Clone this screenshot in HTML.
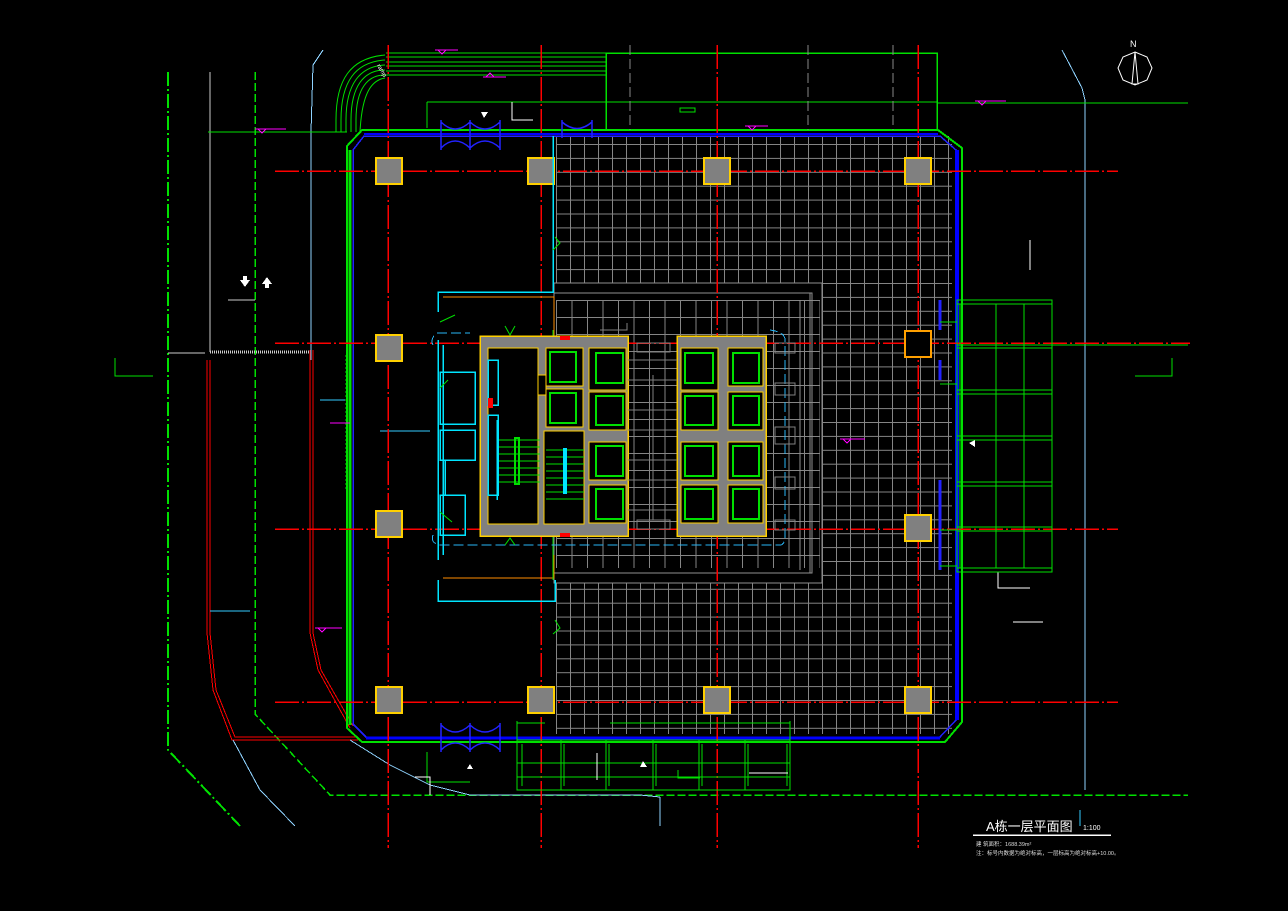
<!DOCTYPE html>
<html><head><meta charset="utf-8"><style>
html,body{margin:0;padding:0;background:#000;}
svg{display:block}
text{font-family:"Liberation Sans","Noto Sans CJK SC",sans-serif;}
</style></head><body>
<svg width="1288" height="911" viewBox="0 0 1288 911" xmlns="http://www.w3.org/2000/svg" shape-rendering="crispEdges">
<defs>
<pattern id="g" x="556" y="144" width="14" height="13.9" patternUnits="userSpaceOnUse">
<path d="M0.5 0V14M0 0.5H14" stroke="#858585" stroke-width="1" fill="none"/>
</pattern>
<pattern id="g2" x="556" y="300" width="15.5" height="17" patternUnits="userSpaceOnUse">
<path d="M0.5 0V17M0 0.5H15.5" stroke="#858585" stroke-width="1" fill="none"/>
</pattern>
</defs>
<rect width="1288" height="911" fill="#000"/>

<rect x="556" y="136" width="396" height="598" fill="url(#g)"/>
<rect x="554" y="283" width="268" height="300" fill="#000"/>
<rect x="556" y="300" width="264" height="268" fill="url(#g2)"/>
<g stroke="#909090" fill="none" stroke-width="1">
<rect x="554" y="283" width="268" height="300"/>
<rect x="554" y="293" width="258" height="280"/>
<line x1="800" y1="300" x2="800" y2="570"/>
<line x1="810" y1="293" x2="810" y2="573"/>
</g>

<g fill="none">
<path d="M168 72V750L240 826" stroke="#00e000" stroke-width="2" stroke-dasharray="14 3 2 3"/>
<path d="M255 72V714L330 795H1188" stroke="#00e000" stroke-width="1.5" stroke-dasharray="8 3"/>
<line x1="210" y1="72" x2="210" y2="352" stroke="#ccc"/>
<path d="M207 360V633L213 690L232 740H358" stroke="#f00"/>
<path d="M210 360V633L216 690L235 737H358" stroke="#f00"/>
<path d="M310 350V633L318 670L350 728" stroke="#f00"/>
<path d="M313 350V633L321 670L353 726" stroke="#f00"/>
<path d="M233 740L260 790L295 826" stroke="#8fd3ff"/>
<path d="M350 740L390 765L430 785L470 795H640L660 797" stroke="#8fd3ff"/>
<line x1="660" y1="797" x2="660" y2="826" stroke="#8fd3ff"/>
<path d="M1062 50L1082 88L1085 100V790" stroke="#8fd3ff"/>
<path d="M323 50L313 65L311 132V360" stroke="#8fd3ff"/>
<line x1="208" y1="132" x2="347" y2="132" stroke="#00e000"/>
<line x1="938" y1="103" x2="1188" y2="103" stroke="#00e000"/>
<line x1="210" y1="352" x2="310" y2="352" stroke="#ccc" stroke-width="3" stroke-dasharray="1 1"/>
<line x1="168" y1="353" x2="205" y2="353" stroke="#ccc"/>
<path d="M115 358V376H153" stroke="#00e000"/>
<path d="M1172 358V376H1135" stroke="#00e000"/>
<line x1="228" y1="300" x2="255" y2="300" stroke="#ccc"/>
<line x1="210" y1="611" x2="250" y2="611" stroke="#3cf"/>
<line x1="320" y1="400" x2="345" y2="400" stroke="#3cf"/>
<line x1="380" y1="431" x2="430" y2="431" stroke="#3cf"/>
<line x1="1030" y1="240" x2="1030" y2="270" stroke="#fff"/>
<path d="M998 572V588H1030" stroke="#fff"/>
<line x1="1013" y1="622" x2="1043" y2="622" stroke="#fff"/>
</g>
<polygon points="240,280 250,280 245,287" fill="#fff"/><rect x="243" y="276" width="4" height="5" fill="#fff"/>
<polygon points="262,284 272,284 267,277" fill="#fff"/><rect x="265" y="283" width="4" height="5" fill="#fff"/>

<g fill="none" stroke="#00e000">
<rect x="606" y="53" width="331" height="77" stroke-width="1.5"/>
<line x1="386" y1="53" x2="606" y2="53"/><line x1="386" y1="57" x2="606" y2="57"/>
<line x1="386" y1="62" x2="606" y2="62"/><line x1="386" y1="66" x2="606" y2="66"/>
<line x1="386" y1="71" x2="606" y2="71"/><line x1="386" y1="75" x2="606" y2="75"/>
<path d="M385 55C350 58 336 80 336 120V132" shape-rendering="auto"/>
<path d="M385 60C355 62 341 82 341 120V132" shape-rendering="auto"/>
<path d="M385 65C360 66 346 84 346 120V132" shape-rendering="auto"/>
<path d="M385 70C364 70 351 86 351 120V132" shape-rendering="auto"/>
<path d="M385 75C368 75 356 88 356 120V132" shape-rendering="auto"/>
<path d="M385 78C372 80 362 92 360 132" shape-rendering="auto"/>
<path d="M427 102H937"/><path d="M427 102V128"/>
</g>
<text x="380" y="72" fill="#fff" font-size="6" transform="rotate(60 384 66)">ramp</text>
<path d="M512 102V120H533" stroke="#fff" fill="none"/>
<polygon points="481,112 488,112 484,118" fill="#fff"/>
<rect x="680" y="108" width="15" height="4" fill="none" stroke="#00e000"/>

<g fill="none">
<path d="M362 130H938L962 148V722L945 742H362L347 728V146Z" stroke="#00e000" stroke-width="2"/>
<path d="M364 136H940L956 150V720L940 737H366L353 724V150Z" stroke="#22f" stroke-width="1.5"/>
<line x1="957" y1="150" x2="957" y2="720" stroke="#00f" stroke-width="4"/>
<line x1="366" y1="738" x2="940" y2="738" stroke="#00f" stroke-width="3"/>
<line x1="364" y1="134" x2="938" y2="134" stroke="#00f" stroke-width="2"/>
<line x1="350" y1="150" x2="350" y2="725" stroke="#00e000" stroke-width="3"/>
<line x1="346" y1="355" x2="346" y2="490" stroke="#00e000" stroke-width="1" stroke-dasharray="2 2"/>
</g>
<g stroke="#22f" fill="none" stroke-width="1.5" shape-rendering="auto">
<path d="M441 120V150M500 120V150M470 120V150M441 122Q455 136 470 122M441 148Q455 134 470 148M470 122Q485 136 500 122M470 148Q485 134 500 148"/>
<path d="M562 120V138M592 120V138M562 122Q577 135 592 122"/>
<path d="M441 723V752M500 723V752M470 723V752M441 725Q455 739 470 725M441 750Q455 736 470 750M470 725Q485 739 500 725M470 750Q485 736 500 750"/>
</g>

<g stroke="#f00" stroke-width="1.5" stroke-dasharray="24 3 2 3" fill="none">
<line x1="275" y1="171" x2="1118" y2="171"/>
<line x1="275" y1="343" x2="1190" y2="343"/>
<line x1="275" y1="529" x2="1118" y2="529"/>
<line x1="275" y1="702" x2="1118" y2="702"/>
<line x1="388" y1="45" x2="388" y2="848"/>
<line x1="541" y1="45" x2="541" y2="848"/>
<line x1="717" y1="45" x2="717" y2="848"/>
<line x1="918" y1="45" x2="918" y2="848"/>
</g>
<g stroke="#888" stroke-width="1" stroke-dasharray="10 4" fill="none">
<line x1="630" y1="45" x2="630" y2="130"/><line x1="808" y1="45" x2="808" y2="130"/>
<line x1="893" y1="45" x2="893" y2="130"/>
</g>

<g fill="#808080" stroke="#ffd000" stroke-width="2">
<rect x="376" y="158" width="26" height="26"/><rect x="528" y="158" width="26" height="26"/>
<rect x="704" y="158" width="26" height="26"/><rect x="905" y="158" width="26" height="26"/>
<rect x="376" y="335" width="26" height="26"/><rect x="376" y="511" width="26" height="26"/>
<rect x="905" y="515" width="26" height="26"/>
<rect x="376" y="687" width="26" height="26"/><rect x="528" y="687" width="26" height="26"/>
<rect x="704" y="687" width="26" height="26"/><rect x="905" y="687" width="26" height="26"/>
</g>
<rect x="905" y="331" width="26" height="26" fill="#000" stroke="#ffa000" stroke-width="2"/>

<g fill="none" stroke="#00e5ff" stroke-width="1.5">
<path d="M553 136V292H438V312"/>
<path d="M555 580V601H438V580"/>
<path d="M438 340V560M443 345V555"/>
<rect x="440" y="372" width="35" height="52"/>
<rect x="440" y="430" width="35" height="30"/>
<rect x="440" y="495" width="25" height="40"/>
<line x1="445" y1="460" x2="445" y2="495"/>
</g>
<path d="M443 297H554V335M443 578H554V555" stroke="#ff8c00" fill="none"/>
<path d="M553 330V580" stroke="#00e000"/>
<path d="M433 345Q430 340 436 333H470M433 535Q430 543 440 545H780Q785 545 785 535V340Q785 332 770 330" stroke="#29b6f6" stroke-dasharray="10 4" fill="none"/>
<g stroke="#00e000" fill="none" shape-rendering="auto">
<path d="M555 237L560 243L553 250M555 620L560 628L553 634M440 322L455 315M440 388L448 380M440 512L452 522M505 326L510 335L515 326M505 545L510 538L515 545"/>
</g>

<rect x="480" y="336" width="148" height="200" fill="#808080" stroke="#ffd000" stroke-width="1.5"/>
<rect x="677" y="336" width="89" height="200" fill="#808080" stroke="#ffd000" stroke-width="1.5"/>
<g fill="#000" stroke="#ffd000" stroke-width="1">
<rect x="488" y="348" width="50" height="176"/>
<rect x="544" y="431" width="40" height="93"/>
</g>
<g stroke="#00e000" fill="none" stroke-width="1">
<path d="M498 440H540M498 447H540M498 454H540M498 461H540M498 468H540M498 475H540M498 482H540"/>
<rect x="515" y="438" width="4" height="46" stroke-width="2"/>
<path d="M546 450H584M546 457H584M546 464H584M546 471H584M546 478H584M546 485H584M546 492H584M546 499H584"/>
</g>
<rect x="563" y="448" width="4" height="46" fill="#00e5ff"/>
<g stroke="#00e5ff" fill="none" stroke-width="1.5">
<rect x="488" y="360" width="10" height="45"/><rect x="488" y="415" width="10" height="80"/>
<line x1="497" y1="420" x2="497" y2="500"/>
</g>
<rect x="488" y="398" width="5" height="10" fill="#f00"/>
<rect x="560" y="336" width="10" height="4" fill="#f00"/><rect x="560" y="533" width="10" height="4" fill="#f00"/>
<rect x="538" y="375" width="8" height="20" fill="#000" stroke="#ffd000"/>

<g fill="#000" stroke="#ffd000" stroke-width="1">
<rect x="546" y="348" width="37" height="38"/><rect x="546" y="389" width="37" height="38"/>
<rect x="589" y="348" width="37" height="42"/><rect x="589" y="392" width="37" height="38"/>
<rect x="589" y="442" width="37" height="38"/><rect x="589" y="485" width="37" height="38"/>
<rect x="681" y="348" width="37" height="42"/><rect x="681" y="392" width="37" height="38"/>
<rect x="681" y="442" width="37" height="38"/><rect x="681" y="485" width="37" height="38"/>
<rect x="728" y="348" width="35" height="38"/><rect x="728" y="392" width="35" height="38"/>
<rect x="728" y="442" width="35" height="38"/><rect x="728" y="485" width="35" height="38"/>
</g>
<g fill="none" stroke="#00e000" stroke-width="2">
<rect x="550" y="352" width="26" height="30"/><rect x="550" y="393" width="26" height="30"/>
<rect x="596" y="353" width="27" height="30"/><rect x="596" y="396" width="27" height="29"/>
<rect x="596" y="446" width="27" height="30"/><rect x="596" y="489" width="27" height="30"/>
<rect x="685" y="353" width="28" height="30"/><rect x="685" y="396" width="28" height="29"/>
<rect x="685" y="446" width="28" height="30"/><rect x="685" y="489" width="28" height="30"/>
<rect x="733" y="353" width="26" height="30"/><rect x="733" y="396" width="26" height="29"/>
<rect x="733" y="446" width="26" height="30"/><rect x="733" y="489" width="26" height="30"/>
</g>
<g stroke="#808080" fill="none">
<path d="M628 360H677M628 380H677M628 410H677M628 430H677M628 460H677M628 480H677M628 510H677M653 375V520"/>
<rect x="637" y="343" width="33" height="9"/><rect x="637" y="520" width="33" height="9"/>
<rect x="775" y="343" width="20" height="10"/><rect x="775" y="383" width="20" height="12"/>
<rect x="775" y="427" width="20" height="17"/><rect x="775" y="477" width="20" height="12"/>
<rect x="775" y="520" width="20" height="10"/>
<path d="M600 330H627V323"/>
</g>

<g fill="none" stroke="#00e000" stroke-width="1.2">
<rect x="957" y="300" width="95" height="272"/>
<line x1="960" y1="304" x2="960" y2="568"/>
<line x1="996" y1="304" x2="996" y2="568"/><line x1="1024" y1="304" x2="1024" y2="568"/>
<path d="M957 345H1052M957 348H1052M957 390H1052M957 394H1052M957 436H1052M957 440H1052M957 482H1052M957 486H1052M957 527H1052M957 531H1052M957 304H1052M957 568H1052"/>
<line x1="1052" y1="345" x2="1188" y2="345" stroke="#00e000"/>
<path d="M940 300V330M940 360V380M940 480V570" stroke-width="3" stroke="#22f"/>
<path d="M940 322H957M940 384H957M940 530H957M940 566H957"/>
</g>
<polygon points="969,443 975,440 975,447" fill="#fff"/>

<g fill="none" stroke="#00e000" stroke-width="1.2">
<rect x="517" y="740" width="273" height="50"/>
<path d="M517 721V740M790 721V740M522 744V786M561 740V790M564 744V786M606 740V790M609 744V786M653 740V790M656 744V786M699 740V790M702 744V786M745 740V790M748 744V786M787 744V786"/>
<path d="M517 763H790M517 777H790M517 723H545M610 723H790"/>
<path d="M427 752V782H470"/>
</g>
<line x1="749" y1="773" x2="788" y2="773" stroke="#fff"/>
<line x1="597" y1="753" x2="597" y2="780" stroke="#fff"/>
<polygon points="467,769 473,769 470,764" fill="#fff"/>
<polygon points="640,767 647,767 643,761" fill="#fff"/>
<path d="M678 770V778H700" stroke="#00e000" fill="none"/>
<path d="M415 777H430V795" stroke="#fff" fill="none"/>

<g stroke="#ff00ff" fill="none">
<path d="M435 50H458M438 50L442 54L446 50"/>
<path d="M483 77H506M486 77L490 73L494 77"/>
<path d="M255 129H286M258 129L262 133L266 129"/>
<path d="M745 126H768M748 126L752 130L756 126"/>
<path d="M975 101H1006M978 101L982 105L986 101"/>
<path d="M840 439H865M843 439L847 443L851 439"/>
<path d="M315 628H342M318 628L322 632L326 628"/>
<path d="M330 423H350"/>
</g>

<polygon points="1135,52 1147,57 1152,68 1147,80 1135,85 1123,80 1118,68 1123,57" fill="none" stroke="#fff" shape-rendering="auto"/>
<polygon points="1135,52 1138,84 1132,84" fill="none" stroke="#fff" shape-rendering="auto"/>
<text x="1130" y="47" fill="#fff" font-size="9" font-family="Liberation Serif">N</text>

<text x="986" y="831" fill="#fff" font-size="13">A栋一层平面图</text>
<text x="1083" y="830" fill="#fff" font-size="7" font-family="Liberation Mono">1:100</text>
<line x1="1080" y1="810" x2="1080" y2="826" stroke="#3cf"/>
<line x1="973" y1="835" x2="1111" y2="835" stroke="#fff" stroke-width="1.5"/>
<text x="976" y="846" fill="#ddd" font-size="5.5">建 筑面积：1688.39m²</text>
<text x="976" y="855" fill="#ddd" font-size="5.5">注：标号内数据为绝对标高，一层标高为绝对标高+10.00。</text>
</svg>
</body></html>
